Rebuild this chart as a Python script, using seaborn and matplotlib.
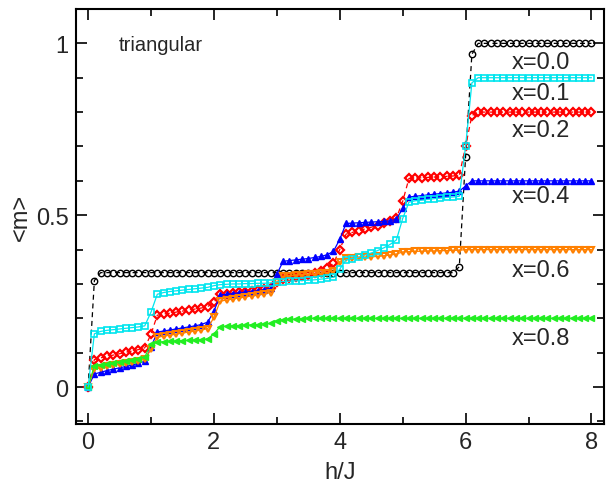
import numpy as np
import pandas as pd
import matplotlib
matplotlib.use("Agg")
import matplotlib.pyplot as plt
from matplotlib.ticker import MultipleLocator, FixedLocator, FixedFormatter
import seaborn as sns

# field values h/J (sampling grid)
h = np.round(np.linspace(0.0, 8.0, 81), 1)

m_x00 = [0.0, 0.31,
         0.333, 0.333, 0.333, 0.333, 0.333, 0.333, 0.333, 0.333, 0.333, 0.333,
         0.333, 0.333, 0.333, 0.333, 0.333, 0.333, 0.333, 0.333, 0.333, 0.333,
         0.333, 0.333, 0.333, 0.333, 0.333, 0.333, 0.333, 0.333, 0.333, 0.333,
         0.333, 0.333, 0.333, 0.333, 0.333, 0.333, 0.333, 0.333, 0.333, 0.333,
         0.333, 0.333, 0.333, 0.333, 0.333, 0.333, 0.333, 0.333, 0.333, 0.333,
         0.333, 0.333, 0.333, 0.333, 0.333, 0.333, 0.333,
         0.35, 0.67, 0.968,
         1.0, 1.0, 1.0, 1.0, 1.0, 1.0, 1.0, 1.0, 1.0, 1.0,
         1.0, 1.0, 1.0, 1.0, 1.0, 1.0, 1.0, 1.0, 1.0]

m_x01 = [0.0,
         0.155, 0.162, 0.165, 0.167, 0.169, 0.171, 0.173, 0.175, 0.178,
         0.218,
         0.27, 0.275, 0.278, 0.28, 0.282, 0.284, 0.286, 0.288, 0.29,
         0.295, 0.298, 0.299, 0.3, 0.3, 0.301, 0.301, 0.302, 0.302, 0.303,
         0.306, 0.307, 0.308, 0.309, 0.31, 0.311, 0.312, 0.314, 0.316, 0.32,
         0.343,
         0.37, 0.374, 0.378, 0.384, 0.39, 0.397, 0.405, 0.415, 0.428,
         0.49, 0.538,
         0.542, 0.544, 0.546, 0.548, 0.55, 0.552, 0.553, 0.555,
         0.70, 0.885,
         0.9, 0.9, 0.9, 0.9, 0.9, 0.9, 0.9, 0.9, 0.9, 0.9,
         0.9, 0.9, 0.9, 0.9, 0.9, 0.9, 0.9, 0.9, 0.9]

m_x02 = [0.0,
         0.08, 0.085, 0.089, 0.093, 0.097, 0.101, 0.105, 0.109, 0.114,
         0.154,
         0.209, 0.212, 0.215, 0.218, 0.221, 0.224, 0.227, 0.23, 0.234,
         0.247,
         0.27, 0.272, 0.274, 0.276, 0.278, 0.28, 0.282, 0.284, 0.287,
         0.305, 0.313, 0.316, 0.319, 0.322, 0.326, 0.331, 0.337, 0.346, 0.36,
         0.40,
         0.445, 0.45, 0.455, 0.46, 0.465, 0.47, 0.476, 0.483, 0.492,
         0.54,
         0.607, 0.608, 0.609, 0.61, 0.611, 0.612, 0.613, 0.614, 0.616,
         0.70, 0.79,
         0.8, 0.8, 0.8, 0.8, 0.8, 0.8, 0.8, 0.8, 0.8, 0.8,
         0.8, 0.8, 0.8, 0.8, 0.8, 0.8, 0.8, 0.8, 0.8]

m_x04 = [0.0,
         0.038, 0.043, 0.048, 0.052, 0.056, 0.06, 0.064, 0.069, 0.075,
         0.116,
         0.16, 0.163, 0.166, 0.169, 0.172, 0.175, 0.178, 0.182, 0.189,
         0.22,
         0.268, 0.27, 0.272, 0.274, 0.276, 0.278, 0.28, 0.283, 0.288,
         0.328,
         0.366, 0.368, 0.37, 0.372, 0.374, 0.377, 0.38, 0.385, 0.395,
         0.43,
         0.476, 0.477, 0.478, 0.479, 0.48, 0.481, 0.482, 0.484, 0.488,
         0.52,
         0.553, 0.555, 0.557, 0.559, 0.561, 0.563, 0.565, 0.567, 0.57,
         0.585,
         0.6, 0.6, 0.6, 0.6, 0.6, 0.6, 0.6, 0.6, 0.6, 0.6,
         0.6, 0.6, 0.6, 0.6, 0.6, 0.6, 0.6, 0.6, 0.6, 0.6]

m_x06 = [0.0,
         0.052, 0.056, 0.06, 0.063, 0.066, 0.069, 0.072, 0.076, 0.081,
         0.11,
         0.145, 0.148, 0.151, 0.154, 0.157, 0.16, 0.163, 0.166, 0.17,
         0.203,
         0.25, 0.253, 0.256, 0.259, 0.262, 0.265, 0.268, 0.271, 0.275,
         0.305,
         0.322, 0.324, 0.326, 0.327, 0.328, 0.329, 0.331, 0.333, 0.337,
         0.365,
         0.375, 0.376, 0.377, 0.378, 0.379, 0.38, 0.382, 0.384, 0.387,
         0.393,
         0.394, 0.395, 0.395, 0.396, 0.396, 0.397, 0.397, 0.398, 0.398,
         0.4, 0.4, 0.4, 0.4, 0.4, 0.4, 0.4, 0.4, 0.4, 0.4,
         0.4, 0.4, 0.4, 0.4, 0.4, 0.4, 0.4, 0.4, 0.4, 0.4, 0.4]

m_x08 = [0.0,
         0.062, 0.065, 0.068, 0.071, 0.074, 0.077, 0.08, 0.083, 0.087,
         0.125,
         0.131, 0.132, 0.133, 0.134, 0.135, 0.136, 0.137, 0.138, 0.14,
         0.155,
         0.176, 0.177, 0.178, 0.179, 0.18, 0.181, 0.182, 0.183, 0.185,
         0.193,
         0.196, 0.197, 0.198, 0.199,
         0.2, 0.2, 0.2, 0.2, 0.2, 0.2, 0.2, 0.2, 0.2, 0.2,
         0.2, 0.2, 0.2, 0.2, 0.2, 0.2, 0.2, 0.2, 0.2, 0.2,
         0.2, 0.2, 0.2, 0.2, 0.2, 0.2, 0.2, 0.2, 0.2, 0.2,
         0.2, 0.2, 0.2, 0.2, 0.2, 0.2, 0.2, 0.2, 0.2, 0.2,
         0.2, 0.2, 0.2, 0.2, 0.2, 0.2]

series_labels = ["x=0.0", "x=0.1", "x=0.2", "x=0.4", "x=0.6", "x=0.8"]
series_values = [m_x00, m_x01, m_x02, m_x04, m_x06, m_x08]

df = pd.concat(
    [pd.DataFrame({"h": h, "m": vals, "x": lab})
     for lab, vals in zip(series_labels, series_values)],
    ignore_index=True,
)

styles = {
    "x=0.0": dict(color="black", marker="o", mfc="none", ls=(0, (4, 3)), lw=0.9, ms=4.6, mew=1.0, z=2),
    "x=0.2": dict(color="#ff0000", marker="D", mfc="none", ls=(0, (4, 3)), lw=0.9, ms=4.0, mew=1.6, z=3),
    "x=0.4": dict(color="#0000ff", marker="^", mfc="#0000ff", ls="-", lw=0.9, ms=5.0, mew=1.0, z=4),
    "x=0.6": dict(color="#ff8000", marker="v", mfc="none", ls="-", lw=0.9, ms=5.0, mew=1.5, z=5),
    "x=0.8": dict(color="#22ee22", marker="<", mfc="#22ee22", ls="-", lw=0.9, ms=5.0, mew=1.0, z=6),
    "x=0.1": dict(color="#00e5ee", marker="s", mfc="none", ls="-", lw=0.9, ms=5.0, mew=1.2, z=7),
}

sns.set_style("ticks")
plt.rcParams["font.family"] = ["Liberation Sans", "DejaVu Sans"]

fig = plt.figure(figsize=(6.06, 4.85), dpi=100)
ax = fig.add_axes([0.1246, 0.1237, 0.8721, 0.8557])

for lab, st in styles.items():
    sub = df[df["x"] == lab]
    sns.lineplot(data=sub, x="h", y="m", ax=ax, estimator=None, sort=True,
                 color=st["color"], marker=st["marker"], linestyle=st["ls"],
                 linewidth=st["lw"], markersize=st["ms"],
                 markerfacecolor=st["mfc"], markeredgecolor=st["color"],
                 markeredgewidth=st["mew"], zorder=st["z"], legend=False)

ax.set_xlim(-0.2, 8.2)
ax.set_ylim(-0.1075, 1.1)

ax.xaxis.set_major_locator(FixedLocator([0, 2, 4, 6, 8]))
ax.xaxis.set_major_formatter(FixedFormatter(["0", "2", "4", "6", "8"]))
ax.xaxis.set_minor_locator(MultipleLocator(1))
ax.yaxis.set_major_locator(FixedLocator([0, 0.5, 1]))
ax.yaxis.set_major_formatter(FixedFormatter(["0", "0.5", "1"]))
ax.yaxis.set_minor_locator(MultipleLocator(0.1))

ax.tick_params(which="both", direction="in", top=True, right=True,
               labelsize=17, width=1.2, color="black", pad=5)
ax.tick_params(which="major", length=8)
ax.tick_params(which="minor", length=5)
for sp in ax.spines.values():
    sp.set_visible(True)
    sp.set_linewidth(1.5)
    sp.set_color("black")

ax.set_xlabel("h/J", fontsize=17, labelpad=6)
ax.set_ylabel("<m>", fontsize=17, labelpad=3)

# curve annotations on the right
label_pos = {"x=0.0": 0.945, "x=0.1": 0.855, "x=0.2": 0.747,
             "x=0.4": 0.555, "x=0.6": 0.34, "x=0.8": 0.142}
for lab in series_labels:
    ax.text(7.2, label_pos[lab], lab, fontsize=17, ha="center", va="center")

ax.text(0.48, 0.997, "triangular", fontsize=14.5, ha="left", va="center")

fig.savefig("out.png", dpi=100)
